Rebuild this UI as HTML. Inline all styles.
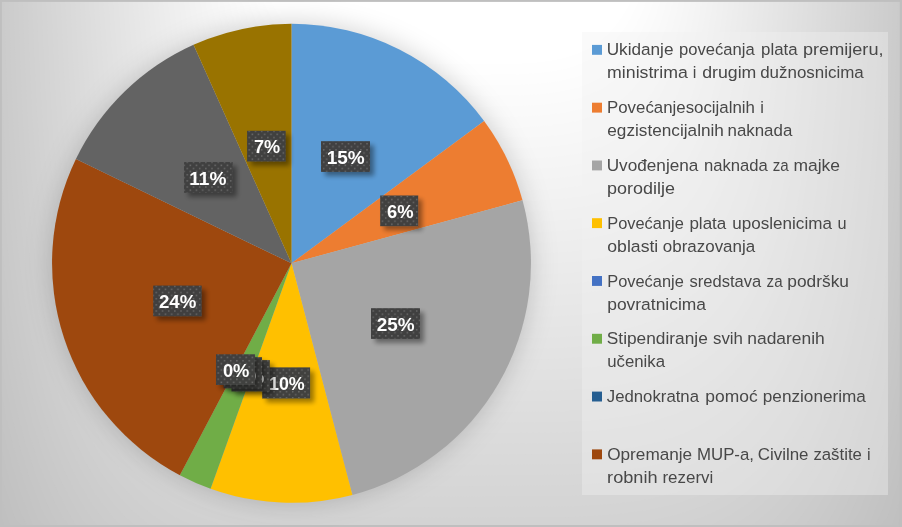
<!DOCTYPE html>
<html lang="bs"><head><meta charset="utf-8"><title>Grafikon</title>
<style>
html,body{margin:0;padding:0;background:#bfbfbf;overflow:hidden}
svg{display:block}
.dl{font-family:"Liberation Sans", sans-serif;font-weight:700;font-size:19.2px;fill:#fff}
.lg{font-family:"Liberation Sans", sans-serif;font-size:16.3px;fill:#484848}
</style></head><body>
<svg width="902" height="527" viewBox="0 0 902 527">
<defs>
<filter id="ps" x="-20%" y="-20%" width="140%" height="140%"><feGaussianBlur stdDeviation="13"/></filter>
<filter id="ls" x="-40%" y="-40%" width="200%" height="200%">
<feGaussianBlur in="SourceAlpha" stdDeviation="2.6" result="b"/><feOffset in="b" dx="4" dy="4" result="o"/>
<feComponentTransfer in="o" result="sh"><feFuncA type="linear" slope="0.4"/></feComponentTransfer>
<feMerge><feMergeNode in="sh"/><feMergeNode in="SourceGraphic"/></feMerge></filter>
<pattern id="dots" width="6.2" height="6.2" patternUnits="userSpaceOnUse" x="0.5" y="0.3">
<rect x="0" y="0" width="1.5" height="1.5" fill="#686868"/><rect x="3.1" y="3.1" width="1.5" height="1.5" fill="#686868"/></pattern>
</defs>
<rect x="0" y="0" width="902" height="527" fill="#bfbfbf"/>
<path d="M-6 -6 -6 45.6 -6 136.6 -6 210.9 -6 274.6 -6 330.4 -6 380.2 -6 424.9 -6 465.3 -3.9 501.9 6.8 533 18.7 533 31.8 533 46.4 533 62.4 533 80.1 533 99.7 533 121.5 533 146 533 173.9 533 206.5 533 246.3 533 300.2 533 451 533 601.8 533 655.7 533 695.5 533 728.1 533 756 533 780.5 533 802.3 533 821.9 533 839.6 533 855.6 533 870.2 533 883.3 533 895.2 533 905.9 501.9 908 465.3 908 424.9 908 380.2 908 330.4 908 274.6 908 210.9 908 136.6 908 45.6 908 -6Z" fill="#c0c0c0"/>
<path d="M-6 -6 -6 41.4 -6 131.5 -6 205.1 -6 268.2 -6 323.5 -6 372.8 -6 417.1 -6 457.2 0.2 493.4 10.8 526.3 22.6 533 35.7 533 50.1 533 66 533 83.5 533 102.9 533 124.5 533 148.8 533 176.4 533 208.7 533 248.2 533 301.6 533 451 533 600.4 533 653.8 533 693.3 533 725.6 533 753.2 533 777.5 533 799.1 533 818.5 533 836 533 851.9 533 866.3 533 879.4 533 891.2 526.3 901.8 493.4 908 457.2 908 417.1 908 372.8 908 323.5 908 268.2 908 205.1 908 131.5 908 41.4 908 -6Z" fill="#c1c1c1"/>
<path d="M-6 -6 -6 37.1 -6 126.3 -6 199.3 -6 261.8 -6 316.6 -6 365.5 -6 409.4 -5 449 4.4 485 14.9 517.6 26.6 533 39.5 533 53.8 533 69.5 533 86.9 533 106.2 533 127.6 533 151.6 533 178.9 533 210.9 533 250 533 303 533 451 533 599 533 652 533 691.1 533 723.1 533 750.4 533 774.4 533 795.8 533 815.1 533 832.5 533 848.2 533 862.5 533 875.4 533 887.1 517.6 897.6 485 907 449 908 409.4 908 365.5 908 316.6 908 261.8 908 199.3 908 126.3 908 37.1 908 -6Z" fill="#c2c2c2"/>
<path d="M-6 -6 -6 32.8 -6 121.2 -6 193.5 -6 255.4 -6 309.8 -6 358.1 -6 401.6 -0.7 440.9 8.6 476.5 19 508.8 30.6 533 43.4 533 57.5 533 73.1 533 90.3 533 109.4 533 130.6 533 154.4 533 181.5 533 213.2 533 251.9 533 304.4 533 451 533 597.6 533 650.1 533 688.8 533 720.5 533 747.6 533 771.4 533 792.6 533 811.7 533 828.9 533 844.5 533 858.6 533 871.4 533 883 508.8 893.4 476.5 902.7 440.9 908 401.6 908 358.1 908 309.8 908 255.4 908 193.5 908 121.2 908 32.8 908 -6Z" fill="#c3c3c3"/>
<path d="M-6 -6 -6 28.5 -6 116.1 -6 187.7 -6 249.1 -6 302.9 -6 350.8 -4.6 393.9 3.6 432.8 12.8 468.1 23.1 500 34.5 529 47.2 533 61.2 533 76.7 533 93.7 533 112.6 533 133.6 533 157.2 533 184 533 215.4 533 253.8 533 305.7 533 451 533 596.3 533 648.2 533 686.6 533 718 533 744.8 533 768.4 533 789.4 533 808.3 533 825.3 533 840.8 533 854.8 533 867.5 529 878.9 500 889.2 468.1 898.4 432.8 906.6 393.9 908 350.8 908 302.9 908 249.1 908 187.7 908 116.1 908 28.5 908 -6Z" fill="#c4c4c4"/>
<path d="M-6 -6 -6 24.2 -6 111 -6 181.9 -6 242.7 -6 296 -6 343.4 -0.2 386.1 7.8 424.6 16.9 459.6 27.1 491.3 38.5 520 51 533 64.9 533 80.2 533 97.1 533 115.8 533 136.6 533 160 533 186.6 533 217.7 533 255.7 533 307.1 533 451 533 594.9 533 646.3 533 684.3 533 715.4 533 742 533 765.4 533 786.2 533 804.9 533 821.8 533 837.1 533 851 533 863.5 520 874.9 491.3 885.1 459.6 894.2 424.6 902.2 386.1 908 343.4 908 296 908 242.7 908 181.9 908 111 908 24.2 908 -6Z" fill="#c5c5c5"/>
<path d="M-6 -6 -6 19.9 -6 105.9 -6 176.1 -6 236.3 -6 289.1 -2.9 336.1 4.1 378.3 12.1 416.5 21.1 451.1 31.2 482.5 42.4 510.9 54.9 533 68.6 533 83.8 533 100.5 533 119 533 139.6 533 162.8 533 189.1 533 219.9 533 257.5 533 308.5 533 451 533 593.5 533 644.5 533 682.1 533 712.9 533 739.2 533 762.4 533 783 533 801.5 533 818.2 533 833.4 533 847.1 533 859.6 510.9 870.8 482.5 880.9 451.1 889.9 416.5 897.9 378.3 904.9 336.1 908 289.1 908 236.3 908 176.1 908 105.9 908 19.9 908 -6Z" fill="#c6c6c6"/>
<path d="M-6 -6 -6 15.7 -6 100.8 -6 170.3 -6 229.9 -4.4 282.2 1.5 328.7 8.4 370.6 16.3 408.4 25.3 442.7 35.3 473.7 46.4 501.9 58.7 527.3 72.3 533 87.4 533 103.9 533 122.3 533 142.7 533 165.6 533 191.7 533 222.1 533 259.4 533 309.9 533 451 533 592.1 533 642.6 533 679.9 533 710.3 533 736.4 533 759.3 533 779.7 533 798.1 533 814.6 533 829.7 533 843.3 527.3 855.6 501.9 866.7 473.7 876.7 442.7 885.7 408.4 893.6 370.6 900.5 328.7 906.4 282.2 908 229.9 908 170.3 908 100.8 908 15.7 908 -6Z" fill="#c7c7c7"/>
<path d="M-6 -6 -6 11.4 -6 95.6 -6 164.5 -4.9 223.5 0 275.3 5.9 321.4 12.8 362.8 20.6 400.3 29.4 434.2 39.3 465 50.4 492.8 62.6 518 76.1 533 90.9 533 107.3 533 125.5 533 145.7 533 168.4 533 194.2 533 224.4 533 261.3 533 311.3 533 451 533 590.7 533 640.7 533 677.6 533 707.8 533 733.6 533 756.3 533 776.5 533 794.7 533 811.1 533 825.9 533 839.4 518 851.6 492.8 862.7 465 872.6 434.2 881.4 400.3 889.2 362.8 896.1 321.4 902 275.3 906.9 223.5 908 164.5 908 95.6 908 11.4 908 -6Z" fill="#c8c8c8"/>
<path d="M-6 -6 -6 7.1 -6 90.5 -4.4 158.8 -0.4 217.1 4.5 268.4 10.3 314 17.1 355.1 24.9 392.1 33.6 425.7 43.4 456.2 54.3 483.8 66.4 508.7 79.8 531.1 94.5 533 110.7 533 128.7 533 148.7 533 171.1 533 196.7 533 226.6 533 263.2 533 312.7 533 451 533 589.3 533 638.8 533 675.4 533 705.3 533 730.9 533 753.3 533 773.3 533 791.3 533 807.5 533 822.2 531.1 835.6 508.7 847.7 483.8 858.6 456.2 868.4 425.7 877.1 392.1 884.9 355.1 891.7 314 897.5 268.4 902.4 217.1 906.4 158.8 908 90.5 908 7.1 908 -6Z" fill="#c9c9c9"/>
<path d="M-6 -6 -5.1 2.8 -2.9 85.4 0.2 153 4.1 210.8 9 261.5 14.7 306.7 21.4 347.3 29.1 384 37.8 417.3 47.5 447.4 58.3 474.7 70.3 499.4 83.5 521.6 98 533 114.1 533 131.9 533 151.7 533 173.9 533 199.3 533 228.9 533 265.1 533 314 533 451 533 588 533 636.9 533 673.1 533 702.7 533 728.1 533 750.3 533 770.1 533 787.9 533 804 533 818.5 521.6 831.7 499.4 843.7 474.7 854.5 447.4 864.2 417.3 872.9 384 880.6 347.3 887.3 306.7 893 261.5 897.9 210.8 901.8 153 904.9 85.4 907.1 2.8 908 -6Z" fill="#cacaca"/>
<path d="M-2.2 -6 -1.7 -6 -0.5 -1.5 1.7 80.3 4.7 147.2 8.6 204.4 13.4 254.6 19.1 299.3 25.8 339.5 33.4 375.9 41.9 408.8 51.6 438.6 62.3 465.7 74.1 490.1 87.2 512 101.6 531.6 117.5 533 135.1 533 154.7 533 176.7 533 201.8 533 231.1 533 266.9 533 315.4 533 451 533 586.6 533 635.1 533 670.9 533 700.2 533 725.3 533 747.3 533 766.9 533 784.5 533 800.4 531.6 814.8 512 827.9 490.1 839.7 465.7 850.4 438.6 860.1 408.8 868.6 375.9 876.2 339.5 882.9 299.3 888.6 254.6 893.4 204.4 897.3 147.2 900.3 80.3 902.5 -1.5 903.7 -6 904.2 -6Z" fill="#cbcbcb"/>
<path d="M2.4 -6 2.9 -6 4.2 -5.8 6.3 75.2 9.3 141.4 13.1 198 17.9 247.7 23.5 292 30.1 331.8 37.6 367.7 46.1 400.3 55.6 429.9 66.2 456.6 77.9 480.8 90.9 502.5 105.2 521.9 120.9 533 138.4 533 157.8 533 179.5 533 204.4 533 233.4 533 268.8 533 316.8 533 451 533 585.2 533 633.2 533 668.6 533 697.6 533 722.5 533 744.2 533 763.6 533 781.1 533 796.8 521.9 811.1 502.5 824.1 480.8 835.8 456.6 846.4 429.9 855.9 400.3 864.4 367.7 871.9 331.8 878.5 292 884.1 247.7 888.9 198 892.7 141.4 895.7 75.2 897.8 -5.8 899.1 -6 899.6 -6Z" fill="#cccccc"/>
<path d="M7.1 -6 7.5 -6 8.8 -6 10.9 70.1 13.8 135.6 17.7 191.6 22.4 240.8 27.9 284.6 34.4 324 41.9 359.6 50.3 391.9 59.7 421.1 70.2 447.6 81.8 471.5 94.6 493 108.7 512.2 124.3 529.2 141.6 533 160.8 533 182.3 533 206.9 533 235.6 533 270.7 533 318.2 533 451 533 583.8 533 631.3 533 666.4 533 695.1 533 719.7 533 741.2 533 760.4 533 777.7 529.2 793.3 512.2 807.4 493 820.2 471.5 831.8 447.6 842.3 421.1 851.7 391.9 860.1 359.6 867.6 324 874.1 284.6 879.6 240.8 884.3 191.6 888.2 135.6 891.1 70.1 893.2 -6 894.5 -6 894.9 -6Z" fill="#cdcdcd"/>
<path d="M11.7 -6 12.1 -6 13.4 -6 15.4 64.9 18.4 129.8 22.2 185.2 26.8 233.9 32.3 277.3 38.8 316.3 46.1 351.5 54.5 383.4 63.8 412.3 74.1 438.5 85.6 462.2 98.3 483.5 112.3 502.5 127.7 519.3 144.8 533 163.8 533 185.1 533 209.4 533 237.8 533 272.6 533 319.6 533 451 533 582.4 533 629.4 533 664.2 533 692.6 533 716.9 533 738.2 533 757.2 533 774.3 519.3 789.7 502.5 803.7 483.5 816.4 462.2 827.9 438.5 838.2 412.3 847.5 383.4 855.9 351.5 863.2 316.3 869.7 277.3 875.2 233.9 879.8 185.2 883.6 129.8 886.6 64.9 888.6 -6 889.9 -6 890.3 -6Z" fill="#cecece"/>
<path d="M16.3 -6 16.7 -6 18 -6 20 59.8 22.9 124 26.7 178.9 31.3 227 36.7 269.9 43.1 308.5 50.4 343.3 58.6 374.9 67.9 403.6 78.1 429.5 89.5 452.9 102 474 115.9 492.8 131.1 509.4 148 523.9 166.8 533 187.9 533 212 533 240.1 533 274.4 533 321 533 451 533 581 533 627.6 533 661.9 533 690 533 714.1 533 735.2 533 754 523.9 770.9 509.4 786.1 492.8 800 474 812.5 452.9 823.9 429.5 834.1 403.6 843.4 374.9 851.6 343.3 858.9 308.5 865.3 269.9 870.7 227 875.3 178.9 879.1 124 882 59.8 884 -6 885.3 -6 885.7 -6Z" fill="#cfcfcf"/>
<path d="M20.9 -6 21.3 -6 22.6 -6 24.6 54.7 27.5 118.2 31.2 172.5 35.7 220.1 41.2 262.6 47.4 300.7 54.7 335.2 62.8 366.5 71.9 394.8 82.1 420.5 93.3 443.6 105.7 464.4 119.4 483 134.5 499.5 151.2 513.9 169.8 526.2 190.7 533 214.5 533 242.3 533 276.3 533 322.3 533 451 533 579.7 533 625.7 533 659.7 533 687.5 533 711.3 533 732.2 526.2 750.8 513.9 767.5 499.5 782.6 483 796.3 464.4 808.7 443.6 819.9 420.5 830.1 394.8 839.2 366.5 847.3 335.2 854.6 300.7 860.8 262.6 866.3 220.1 870.8 172.5 874.5 118.2 877.4 54.7 879.4 -6 880.7 -6 881.1 -6Z" fill="#d0d0d0"/>
<path d="M25.5 -6 26 -6 27.2 -6 29.2 49.6 32 112.4 35.7 166.1 40.2 213.2 45.6 255.2 51.8 293 58.9 327.1 67 358 76 386 86 411.4 97.2 434.3 109.4 454.9 123 473.3 137.9 489.6 154.5 503.8 172.9 516 193.5 526.3 217.1 533 244.6 533 278.2 533 323.7 533 451 533 578.3 533 623.8 533 657.4 533 684.9 533 708.5 526.3 729.1 516 747.5 503.8 764.1 489.6 779 473.3 792.6 454.9 804.8 434.3 816 411.4 826 386 835 358 843.1 327.1 850.2 293 856.4 255.2 861.8 213.2 866.3 166.1 870 112.4 872.8 49.6 874.8 -6 876 -6 876.5 -6Z" fill="#d1d1d1"/>
<path d="M30.2 -6 30.6 -6 31.8 -6 33.8 44.5 36.6 106.6 40.2 159.7 44.7 206.3 50 247.9 56.1 285.2 63.2 319 71.1 349.5 80.1 377.3 90 402.4 101 425 113.1 445.4 126.5 463.6 141.3 479.7 157.7 493.8 175.9 505.9 196.3 516 219.6 524.3 246.8 530.7 280.1 533 325.1 533 451 533 576.9 533 621.9 533 655.2 530.7 682.4 524.3 705.7 516 726.1 505.9 744.3 493.8 760.7 479.7 775.5 463.6 788.9 445.4 801 425 812 402.4 821.9 377.3 830.9 349.5 838.8 319 845.9 285.2 852 247.9 857.3 206.3 861.8 159.7 865.4 106.6 868.2 44.5 870.2 -6 871.4 -6 871.8 -6Z" fill="#d2d2d2"/>
<path d="M34.8 -6 35.2 -6 36.4 -6 38.3 39.4 41.1 100.8 44.7 153.3 49.1 199.5 54.4 240.5 60.5 277.5 67.4 310.8 75.3 341.1 84.1 368.5 94 393.3 104.8 415.7 116.9 435.9 130.1 453.9 144.7 469.8 160.9 483.7 178.9 495.7 199.1 505.7 222.1 513.9 249 520.3 281.9 524.8 326.5 527.5 451 528.4 575.5 527.5 620.1 524.8 653 520.3 679.9 513.9 702.9 505.7 723.1 495.7 741.1 483.7 757.3 469.8 771.9 453.9 785.1 435.9 797.2 415.7 808 393.3 817.9 368.5 826.7 341.1 834.6 310.8 841.5 277.5 847.6 240.5 852.9 199.5 857.3 153.3 860.9 100.8 863.7 39.4 865.6 -6 866.8 -6 867.2 -6Z" fill="#d3d3d3"/>
<path d="M39.4 -6 39.8 -6 41 -6 42.9 34.2 45.7 95 49.2 146.9 53.6 192.6 58.8 233.2 64.8 269.7 71.7 302.7 79.5 332.6 88.2 359.7 97.9 384.3 108.7 406.4 120.6 426.4 133.7 444.2 148.1 459.9 164.1 473.7 181.9 485.5 201.9 495.4 224.7 503.5 251.3 509.8 283.8 514.3 327.9 516.9 451 517.8 574.1 516.9 618.2 514.3 650.7 509.8 677.3 503.5 700.1 495.4 720.1 485.5 737.9 473.7 753.9 459.9 768.3 444.2 781.4 426.4 793.3 406.4 804.1 384.3 813.8 359.7 822.5 332.6 830.3 302.7 837.2 269.7 843.2 233.2 848.4 192.6 852.8 146.9 856.3 95 859.1 34.2 861 -6 862.2 -6 862.6 -6Z" fill="#d4d4d4"/>
<path d="M44 -6 44.4 -6 45.6 -6 47.5 29.1 50.2 89.2 53.7 140.6 58 185.7 63.2 225.8 69.1 261.9 75.9 294.6 83.7 324.1 92.3 350.9 101.9 375.2 112.5 397.1 124.3 416.9 137.2 434.4 151.5 450 167.3 463.6 184.9 475.3 204.7 485.1 227.2 493.1 253.5 499.3 285.7 503.8 329.2 506.4 451 507.3 572.8 506.4 616.3 503.8 648.5 499.3 674.8 493.1 697.3 485.1 717.1 475.3 734.7 463.6 750.5 450 764.8 434.4 777.7 416.9 789.5 397.1 800.1 375.2 809.7 350.9 818.3 324.1 826.1 294.6 832.9 261.9 838.8 225.8 844 185.7 848.3 140.6 851.8 89.2 854.5 29.1 856.4 -6 857.6 -6 858 -6Z" fill="#d5d5d5"/>
<path d="M48.6 -6 49 -6 50.2 -6 52.1 24 54.8 83.4 58.2 134.2 62.5 178.8 67.6 218.5 73.5 254.2 80.2 286.4 87.8 315.7 96.4 342.2 105.9 366.2 116.4 387.9 128 407.3 140.8 424.7 154.9 440.1 170.6 453.6 188 465.1 207.5 474.8 229.8 482.8 255.8 488.9 287.6 493.3 330.6 495.9 451 496.7 571.4 495.9 614.4 493.3 646.2 488.9 672.2 482.8 694.5 474.8 714 465.1 731.4 453.6 747.1 440.1 761.2 424.7 774 407.3 785.6 387.9 796.1 366.2 805.6 342.2 814.2 315.7 821.8 286.4 828.5 254.2 834.4 218.5 839.5 178.8 843.8 134.2 847.2 83.4 849.9 24 851.8 -6 853 -6 853.4 -6Z" fill="#d6d6d6"/>
<path d="M53.3 -6 53.6 -6 54.8 -6 56.7 18.9 59.3 77.6 62.8 127.8 67 171.9 72 211.1 77.8 246.4 84.5 278.3 92 307.2 100.4 333.4 109.8 357.1 120.2 378.6 131.7 397.8 144.4 415 158.3 430.2 173.8 443.5 191 454.9 210.3 464.6 232.3 472.4 258 478.4 289.5 482.8 332 485.3 451 486.2 570 485.3 612.5 482.8 644 478.4 669.7 472.4 691.7 464.6 711 454.9 728.2 443.5 743.7 430.2 757.6 415 770.3 397.8 781.8 378.6 792.2 357.1 801.6 333.4 810 307.2 817.5 278.3 824.2 246.4 830 211.1 835 171.9 839.2 127.8 842.7 77.6 845.3 18.9 847.2 -6 848.4 -6 848.7 -6Z" fill="#d7d7d7"/>
<path d="M57.9 -6 58.3 -6 59.4 -6 61.3 13.8 63.9 71.8 67.3 121.4 71.4 165 76.4 203.8 82.1 238.7 88.7 270.2 96.2 298.7 104.5 324.6 113.8 348.1 124.1 369.3 135.4 388.3 147.9 405.3 161.7 420.3 177 433.5 194 444.8 213.1 454.3 234.8 462 260.3 468 291.3 472.2 333.4 474.8 451 475.7 568.6 474.8 610.7 472.2 641.7 468 667.2 462 688.9 454.3 708 444.8 725 433.5 740.3 420.3 754.1 405.3 766.6 388.3 777.9 369.3 788.2 348.1 797.5 324.6 805.8 298.7 813.3 270.2 819.9 238.7 825.6 203.8 830.6 165 834.7 121.4 838.1 71.8 840.7 13.8 842.6 -6 843.7 -6 844.1 -6Z" fill="#d8d8d8"/>
<path d="M62.5 -6 62.9 -6 64 -6 65.8 8.7 68.4 66 71.8 115 75.9 158.1 80.8 196.4 86.5 230.9 93 262 100.3 290.3 108.6 315.9 117.7 339 127.9 360 139.1 378.8 151.5 395.6 165.1 410.4 180.2 423.4 197 434.6 215.9 444 237.4 451.6 262.5 457.5 293.2 461.7 334.8 464.3 451 465.1 567.2 464.3 608.8 461.7 639.5 457.5 664.6 451.6 686.1 444 705 434.6 721.8 423.4 736.9 410.4 750.5 395.6 762.9 378.8 774.1 360 784.3 339 793.4 315.9 801.7 290.3 809 262 815.5 230.9 821.2 196.4 826.1 158.1 830.2 115 833.6 66 836.2 8.7 838 -6 839.1 -6 839.5 -6Z" fill="#d9d9d9"/>
<path d="M67.1 -6 67.5 -6 68.6 -6 70.4 3.5 73 60.2 76.3 108.7 80.3 151.2 85.2 189.1 90.8 223.1 97.2 253.9 104.5 281.8 112.6 307.1 121.7 330 131.7 350.7 142.8 369.3 155 385.9 168.5 400.5 183.4 413.4 200 424.4 218.7 433.7 239.9 441.2 264.7 447.1 295.1 451.2 336.2 453.7 451 454.6 565.8 453.7 606.9 451.2 637.3 447.1 662.1 441.2 683.3 433.7 702 424.4 718.6 413.4 733.5 400.5 747 385.9 759.2 369.3 770.3 350.7 780.3 330 789.4 307.1 797.5 281.8 804.8 253.9 811.2 223.1 816.8 189.1 821.7 151.2 825.7 108.7 829 60.2 831.6 3.5 833.4 -6 834.5 -6 834.9 -6Z" fill="#dadada"/>
<path d="M71.7 -6 72.1 -6 73.2 -6 75 -1.6 77.5 54.4 80.8 102.3 84.8 144.3 89.6 181.7 95.1 215.4 101.5 245.8 108.7 273.3 116.7 298.3 125.7 321 135.6 341.4 146.5 359.7 158.6 376.1 171.9 390.6 186.7 403.3 203.1 414.2 221.5 423.4 242.5 430.8 267 436.6 297 440.7 337.5 443.2 451 444 564.5 443.2 605 440.7 635 436.6 659.5 430.8 680.5 423.4 698.9 414.2 715.3 403.3 730.1 390.6 743.4 376.1 755.5 359.7 766.4 341.4 776.3 321 785.3 298.3 793.3 273.3 800.5 245.8 806.9 215.4 812.4 181.7 817.2 144.3 821.2 102.3 824.5 54.4 827 -1.6 828.8 -6 829.9 -6 830.3 -6Z" fill="#dbdbdb"/>
<path d="M76.4 -6 76.7 -6 77.8 -6 79.6 -6 82.1 48.6 85.3 95.9 89.3 137.4 94 174.4 99.5 207.6 105.7 237.7 112.8 264.9 120.8 289.6 129.6 311.9 139.4 332.1 150.2 350.2 162.2 366.4 175.3 380.7 189.9 393.3 206.1 404 224.3 413.1 245 420.5 269.2 426.2 298.8 430.2 338.9 432.7 451 433.5 563.1 432.7 603.2 430.2 632.8 426.2 657 420.5 677.7 413.1 695.9 404 712.1 393.3 726.7 380.7 739.8 366.4 751.8 350.2 762.6 332.1 772.4 311.9 781.2 289.6 789.2 264.9 796.3 237.7 802.5 207.6 808 174.4 812.7 137.4 816.7 95.9 819.9 48.6 822.4 -6 824.2 -6 825.3 -6 825.6 -6Z" fill="#dcdcdc"/>
<path d="M81 -6 81.3 -6 82.4 -6 84.2 -6 86.6 42.8 89.8 89.5 93.7 130.5 98.4 167 103.8 199.9 110 229.5 117 256.4 124.9 280.8 133.6 302.9 143.3 322.8 153.9 340.7 165.7 356.7 178.7 370.9 193.1 383.2 209.1 393.9 227.1 402.8 247.5 410.1 271.5 415.7 300.7 419.7 340.3 422.1 451 422.9 561.7 422.1 601.3 419.7 630.5 415.7 654.5 410.1 674.9 402.8 692.9 393.9 708.9 383.2 723.3 370.9 736.3 356.7 748.1 340.7 758.7 322.8 768.4 302.9 777.1 280.8 785 256.4 792 229.5 798.2 199.9 803.6 167 808.3 130.5 812.2 89.5 815.4 42.8 817.8 -6 819.6 -6 820.7 -6 821 -6Z" fill="#dddddd"/>
<path d="M85.6 -6 86 -6 87 -6 88.7 -6 91.2 37 94.3 83.1 98.2 123.6 102.8 159.7 108.1 192.1 114.3 221.4 121.2 247.9 128.9 272 137.6 293.8 147.1 313.5 157.7 331.2 169.3 347 182.1 361 196.3 373.2 212.1 383.7 229.9 392.5 250.1 399.7 273.7 405.3 302.6 409.2 341.7 411.6 451 412.4 560.3 411.6 599.4 409.2 628.3 405.3 651.9 399.7 672.1 392.5 689.9 383.7 705.7 373.2 719.9 361 732.7 347 744.3 331.2 754.9 313.5 764.4 293.8 773.1 272 780.8 247.9 787.7 221.4 793.9 192.1 799.2 159.7 803.8 123.6 807.7 83.1 810.8 37 813.3 -6 815 -6 816 -6 816.4 -6Z" fill="#dedede"/>
<path d="M90.2 -6 90.6 -6 91.6 -6 93.3 -6 95.7 31.2 98.8 76.7 102.6 116.7 107.2 152.3 112.5 184.3 118.5 213.3 125.4 239.5 133 263.2 141.5 284.8 151 304.2 161.4 321.7 172.8 337.3 185.5 351.1 199.5 363.1 215.1 373.5 232.7 382.2 252.6 389.3 275.9 394.8 304.5 398.7 343.1 401.1 451 401.8 558.9 401.1 597.5 398.7 626.1 394.8 649.4 389.3 669.3 382.2 686.9 373.5 702.5 363.1 716.5 351.1 729.2 337.3 740.6 321.7 751 304.2 760.5 284.8 769 263.2 776.6 239.5 783.5 213.3 789.5 184.3 794.8 152.3 799.4 116.7 803.2 76.7 806.3 31.2 808.7 -6 810.4 -6 811.4 -6 811.8 -6Z" fill="#dfdfdf"/>
<path d="M94.8 -6 95.2 -6 96.2 -6 97.9 -6 100.3 25.4 103.3 70.4 107.1 109.8 111.6 145 116.8 176.6 122.8 205.1 129.5 231 137.1 254.5 145.5 275.7 154.8 294.9 165.1 312.2 176.4 327.5 188.9 341.2 202.8 353.1 218.2 363.3 235.5 371.9 255.2 378.9 278.2 384.3 306.3 388.2 344.4 390.5 451 391.3 557.6 390.5 595.7 388.2 623.8 384.3 646.8 378.9 666.5 371.9 683.8 363.3 699.2 353.1 713.1 341.2 725.6 327.5 736.9 312.2 747.2 294.9 756.5 275.7 764.9 254.5 772.5 231 779.2 205.1 785.2 176.6 790.4 145 794.9 109.8 798.7 70.4 801.7 25.4 804.1 -6 805.8 -6 806.8 -6 807.2 -6Z" fill="#e0e0e0"/>
<path d="M99.5 -6 99.8 -6 100.8 -6 102.5 -6 104.8 19.6 107.8 64 111.6 102.9 116 137.6 121.1 168.8 127 197 133.7 222.5 141.2 245.7 149.4 266.7 158.6 285.6 168.8 302.6 180 317.8 192.3 331.3 206 343 221.2 353.1 238.3 361.6 257.7 368.5 280.4 373.9 308.2 377.7 345.8 380 451 380.7 556.2 380 593.8 377.7 621.6 373.9 644.3 368.5 663.7 361.6 680.8 353.1 696 343 709.7 331.3 722 317.8 733.2 302.6 743.4 285.6 752.6 266.7 760.8 245.7 768.3 222.5 775 197 780.9 168.8 786 137.6 790.4 102.9 794.2 64 797.2 19.6 799.5 -6 801.2 -6 802.2 -6 802.5 -6Z" fill="#e1e1e1"/>
<path d="M104.1 -6 104.4 -6 105.4 -6 107.1 -6 109.4 13.8 112.4 57.6 116 96 120.4 130.3 125.5 161.1 131.3 188.9 137.9 214.1 145.2 236.9 153.4 257.6 162.5 276.3 172.5 293.1 183.5 308.1 195.7 321.4 209.2 333 224.2 342.9 241 351.3 260.2 358.1 282.7 363.4 310.1 367.2 347.2 369.5 451 370.2 554.8 369.5 591.9 367.2 619.3 363.4 641.8 358.1 661 351.3 677.8 342.9 692.8 333 706.3 321.4 718.5 308.1 729.5 293.1 739.5 276.3 748.6 257.6 756.8 236.9 764.1 214.1 770.7 188.9 776.5 161.1 781.6 130.3 786 96 789.6 57.6 792.6 13.8 794.9 -6 796.6 -6 797.6 -6 797.9 -6Z" fill="#e2e2e2"/>
<path d="M108.7 -6 109 -6 110 -6 111.6 -6 113.9 8 116.9 51.2 120.5 89.2 124.8 122.9 129.8 153.3 135.6 180.7 142 205.6 149.3 228.2 157.4 248.6 166.3 267 176.2 283.6 187.1 298.4 199.1 311.5 212.4 322.9 227.2 332.8 243.8 341 262.8 347.8 284.9 353 312 356.7 348.6 358.9 451 359.7 553.4 358.9 590 356.7 617.1 353 639.2 347.8 658.2 341 674.8 332.8 689.6 322.9 702.9 311.5 714.9 298.4 725.8 283.6 735.7 267 744.6 248.6 752.7 228.2 760 205.6 766.4 180.7 772.2 153.3 777.2 122.9 781.5 89.2 785.1 51.2 788.1 8 790.4 -6 792 -6 793 -6 793.3 -6Z" fill="#e3e3e3"/>
<path d="M113.3 -6 113.6 -6 114.6 -6 116.2 -6 118.5 2.2 121.4 44.8 125 82.3 129.2 115.6 134.2 145.5 139.8 172.6 146.2 197.2 153.4 219.4 161.3 239.5 170.2 257.7 179.9 274.1 190.7 288.7 202.5 301.6 215.6 312.9 230.2 322.6 246.6 330.7 265.3 337.4 287.2 342.5 313.8 346.2 350 348.4 451 349.1 552 348.4 588.2 346.2 614.8 342.5 636.7 337.4 655.4 330.7 671.8 322.6 686.4 312.9 699.5 301.6 711.3 288.7 722.1 274.1 731.8 257.7 740.7 239.5 748.6 219.4 755.8 197.2 762.2 172.6 767.8 145.5 772.8 115.6 777 82.3 780.6 44.8 783.5 2.2 785.8 -6 787.4 -6 788.4 -6 788.7 -6Z" fill="#e4e4e4"/>
<path d="M117.9 -6 118.3 -6 119.2 -6 120.8 -6 123 -3.6 125.9 38.5 129.4 75.4 133.6 108.2 138.5 137.8 144.1 164.5 150.4 188.7 157.4 210.6 165.3 230.5 174 248.4 183.6 264.6 194.2 279 205.9 291.7 218.9 302.8 233.3 312.4 249.4 320.4 267.9 327 289.4 332.1 315.7 335.7 351.4 337.8 451 338.6 550.6 337.8 586.3 335.7 612.6 332.1 634.1 327 652.6 320.4 668.7 312.4 683.1 302.8 696.1 291.7 707.8 279 718.4 264.6 728 248.4 736.7 230.5 744.6 210.6 751.6 188.7 757.9 164.5 763.5 137.8 768.4 108.2 772.6 75.4 776.1 38.5 779 -3.6 781.2 -6 782.8 -6 783.7 -6 784.1 -6Z" fill="#e5e5e5"/>
<path d="M122.6 -6 122.9 -6 123.8 -6 125.4 -6 127.6 -6 130.4 32.1 133.9 68.5 138 100.9 142.8 130 148.3 156.4 154.5 180.2 161.5 201.9 169.3 221.4 177.8 239.1 187.3 255 197.8 269.2 209.3 281.8 222.1 292.8 236.3 302.2 252.2 310.2 270.4 316.6 291.6 321.6 317.6 325.2 352.7 327.3 451 328 549.3 327.3 584.4 325.2 610.4 321.6 631.6 316.6 649.8 310.2 665.7 302.2 679.9 292.8 692.7 281.8 704.2 269.2 714.7 255 724.2 239.1 732.7 221.4 740.5 201.9 747.5 180.2 753.7 156.4 759.2 130 764 100.9 768.1 68.5 771.6 32.1 774.4 -6 776.6 -6 778.2 -6 779.1 -6 779.4 -6Z" fill="#e6e6e6"/>
<path d="M127.2 -6 127.5 -6 128.4 -6 130 -6 132.1 -6 134.9 25.7 138.3 61.6 142.4 93.5 147.2 122.3 152.6 148.2 158.7 171.8 165.6 193.1 173.2 212.4 181.7 229.8 191 245.5 201.3 259.5 212.7 271.9 225.3 282.7 239.3 292 255 299.9 272.9 306.2 293.9 311.2 319.5 314.7 354.1 316.8 451 317.5 547.9 316.8 582.5 314.7 608.1 311.2 629.1 306.2 647 299.9 662.7 292 676.7 282.7 689.3 271.9 700.7 259.5 711 245.5 720.3 229.8 728.8 212.4 736.4 193.1 743.3 171.8 749.4 148.2 754.8 122.3 759.6 93.5 763.7 61.6 767.1 25.7 769.9 -6 772 -6 773.6 -6 774.5 -6 774.8 -6Z" fill="#e7e7e7"/>
<path d="M131.8 -6 132.1 -6 133 -6 134.5 -6 136.7 -6 139.4 19.3 142.8 54.7 146.8 86.2 151.5 114.5 156.8 140.1 162.9 163.3 169.7 184.3 177.2 203.4 185.5 220.6 194.7 236 204.9 249.8 216.1 262 228.5 272.7 242.3 281.9 257.8 289.6 275.5 295.8 296.1 300.7 321.4 304.2 355.5 306.2 451 306.9 546.5 306.2 580.6 304.2 605.9 300.7 626.5 295.8 644.2 289.6 659.7 281.9 673.5 272.7 685.9 262 697.1 249.8 707.3 236 716.5 220.6 724.8 203.4 732.3 184.3 739.1 163.3 745.2 140.1 750.5 114.5 755.2 86.2 759.2 54.7 762.6 19.3 765.3 -6 767.5 -6 769 -6 769.9 -6 770.2 -6Z" fill="#e8e8e8"/>
<path d="M136.4 -6 136.7 -6 137.6 -6 139.1 -6 141.2 -6 143.9 12.9 147.3 47.8 151.2 78.8 155.8 106.7 161.1 132 167.1 154.8 173.7 175.5 181.2 194.3 189.4 211.3 198.5 226.5 208.5 240.1 219.5 252.1 231.7 262.6 245.3 271.7 260.6 279.3 278 285.5 298.4 290.3 323.2 293.7 356.9 295.7 451 296.4 545.1 295.7 578.8 293.7 603.6 290.3 624 285.5 641.4 279.3 656.7 271.7 670.3 262.6 682.5 252.1 693.5 240.1 703.5 226.5 712.6 211.3 720.8 194.3 728.3 175.5 734.9 154.8 740.9 132 746.2 106.7 750.8 78.8 754.7 47.8 758.1 12.9 760.8 -6 762.9 -6 764.4 -6 765.3 -6 765.6 -6Z" fill="#e9e9e9"/>
<path d="M141 -6 141.3 -6 142.2 -6 143.7 -6 145.8 -6 148.4 6.5 151.7 40.9 155.6 71.5 160.2 99 165.4 123.8 171.2 146.4 177.8 166.8 185.1 185.3 193.2 202 202.2 217 212 230.4 222.9 242.2 235 252.6 248.4 261.5 263.4 269 280.6 275.1 300.6 279.8 325.1 283.2 358.3 285.2 451 285.8 543.7 285.2 576.9 283.2 601.4 279.8 621.4 275.1 638.6 269 653.6 261.5 667 252.6 679.1 242.2 690 230.4 699.8 217 708.8 202 716.9 185.3 724.2 166.8 730.8 146.4 736.6 123.8 741.8 99 746.4 71.5 750.3 40.9 753.6 6.5 756.2 -6 758.3 -6 759.8 -6 760.7 -6 761 -6Z" fill="#eaeaea"/>
<path d="M145.7 -6 146 -6 146.8 -6 148.3 -6 150.3 -6 152.9 0.2 156.2 34 160 64.1 164.5 91.2 169.6 115.7 175.4 137.9 181.9 158 189.1 176.2 197.1 192.7 205.9 207.5 215.6 220.6 226.3 232.3 238.2 242.5 251.4 251.3 266.2 258.7 283.1 264.7 302.8 269.3 327 272.7 359.7 274.6 451 275.3 542.3 274.6 575 272.7 599.2 269.3 618.9 264.7 635.8 258.7 650.6 251.3 663.8 242.5 675.7 232.3 686.4 220.6 696.1 207.5 704.9 192.7 712.9 176.2 720.1 158 726.6 137.9 732.4 115.7 737.5 91.2 742 64.1 745.8 34 749.1 0.2 751.7 -6 753.7 -6 755.2 -6 756 -6 756.3 -6Z" fill="#ebebeb"/>
<path d="M150.3 -6 150.6 -6 151.4 -6 152.9 -6 154.9 -6 157.5 -6 160.6 27.1 164.4 56.8 168.8 83.5 173.9 107.6 179.6 129.4 185.9 149.2 193 167.2 200.9 183.4 209.6 197.9 219.2 210.9 229.7 222.4 241.4 232.5 254.4 241.1 269 248.4 285.6 254.3 305.1 258.9 328.9 262.1 361 264.1 451 264.8 541 264.1 573.1 262.1 596.9 258.9 616.4 254.3 633 248.4 647.6 241.1 660.6 232.5 672.3 222.4 682.8 210.9 692.4 197.9 701.1 183.4 709 167.2 716.1 149.2 722.4 129.4 728.1 107.6 733.2 83.5 737.6 56.8 741.4 27.1 744.5 -6 747.1 -6 749.1 -6 750.6 -6 751.4 -6 751.7 -6Z" fill="#ececec"/>
<path d="M154.9 -6 155.2 -6 156 -6 157.4 -6 159.4 -6 162 -6 165.1 20.2 168.8 49.4 173.2 75.7 178.1 99.4 183.7 121 190 140.5 197 158.1 204.7 174.1 213.3 188.4 222.7 201.2 233.1 212.5 244.6 222.4 257.4 230.9 271.8 238.1 288.2 243.9 307.3 248.4 330.7 251.6 362.4 253.6 451 254.2 539.6 253.6 571.3 251.6 594.7 248.4 613.8 243.9 630.2 238.1 644.6 230.9 657.4 222.4 668.9 212.5 679.3 201.2 688.7 188.4 697.3 174.1 705 158.1 712 140.5 718.3 121 723.9 99.4 728.8 75.7 733.2 49.4 736.9 20.2 740 -6 742.6 -6 744.6 -6 746 -6 746.8 -6 747.1 -6Z" fill="#ededed"/>
<path d="M159.5 -6 159.8 -6 160.6 -6 162 -6 164 -6 166.5 -6 169.6 13.3 173.2 42.1 177.5 67.9 182.4 91.3 187.9 112.5 194.1 131.7 201 149.1 208.6 164.8 217 178.9 226.3 191.5 236.5 202.6 247.8 212.4 260.4 220.8 274.6 227.8 290.7 233.5 309.6 238 332.6 241.1 363.8 243 451 243.7 538.2 243 569.4 241.1 592.4 238 611.3 233.5 627.4 227.8 641.6 220.8 654.2 212.4 665.5 202.6 675.7 191.5 685 178.9 693.4 164.8 701 149.1 707.9 131.7 714.1 112.5 719.6 91.3 724.5 67.9 728.8 42.1 732.4 13.3 735.5 -6 738 -6 740 -6 741.4 -6 742.2 -6 742.5 -6Z" fill="#eeeeee"/>
<path d="M164.1 -6 164.4 -6 165.2 -6 166.6 -6 168.5 -6 171 -6 174 6.4 177.6 34.7 181.8 60.2 186.6 83.2 192.1 104 198.2 122.9 204.9 140 212.4 155.5 220.7 169.4 229.8 181.8 239.9 192.7 251.1 202.3 263.5 210.6 277.4 217.5 293.3 223.2 311.8 227.5 334.5 230.6 365.2 232.5 451 233.1 536.8 232.5 567.5 230.6 590.2 227.5 608.7 223.2 624.6 217.5 638.5 210.6 650.9 202.3 662.1 192.7 672.2 181.8 681.3 169.4 689.6 155.5 697.1 140 703.8 122.9 709.9 104 715.4 83.2 720.2 60.2 724.4 34.7 728 6.4 731 -6 733.5 -6 735.4 -6 736.8 -6 737.6 -6 737.9 -6Z" fill="#efefef"/>
<path d="M168.8 -6 169 -6 169.8 -6 171.2 -6 173.1 -6 175.5 -6 178.5 -0.5 182 27.4 186.2 52.4 190.9 75.1 196.2 95.6 202.2 114.2 208.9 131 216.3 146.2 224.4 159.9 233.4 172.1 243.3 182.9 254.3 192.3 266.5 200.4 280.2 207.2 295.8 212.8 314.1 217.1 336.4 220.1 366.6 222 451 222.6 535.4 222 565.6 220.1 587.9 217.1 606.2 212.8 621.8 207.2 635.5 200.4 647.7 192.3 658.7 182.9 668.6 172.1 677.6 159.9 685.7 146.2 693.1 131 699.8 114.2 705.8 95.6 711.1 75.1 715.8 52.4 720 27.4 723.5 -0.5 726.5 -6 728.9 -6 730.8 -6 732.2 -6 733 -6 733.2 -6Z" fill="#f0f0f0"/>
<path d="M173.4 -6 173.7 -6 174.4 -6 175.8 -6 177.6 -6 180 -6 182.9 -6 186.4 20 190.5 44.7 195.2 66.9 200.4 87.1 206.3 105.4 212.9 121.9 220.1 136.9 228.1 150.3 237 162.3 246.7 173 257.5 182.2 269.5 190.2 283 196.9 298.3 202.4 316.3 206.6 338.2 209.6 367.9 211.4 451 212 534.1 211.4 563.8 209.6 585.7 206.6 603.7 202.4 619 196.9 632.5 190.2 644.5 182.2 655.3 173 665 162.3 673.9 150.3 681.9 136.9 689.1 121.9 695.7 105.4 701.6 87.1 706.8 66.9 711.5 44.7 715.6 20 719.1 -6 722 -6 724.4 -6 726.2 -6 727.6 -6 728.3 -6 728.6 -6Z" fill="#f1f1f1"/>
<path d="M178 -6 178.3 -6 179 -6 180.3 -6 182.2 -6 184.5 -6 187.4 -6 190.8 12.7 194.8 36.9 199.4 58.8 204.6 78.6 210.4 96.6 216.8 112.9 224 127.6 231.8 140.8 240.5 152.6 250.1 163.1 260.7 172.2 272.5 180 285.8 186.6 300.9 192 318.5 196.2 340.1 199.1 369.3 200.9 451 201.5 532.7 200.9 561.9 199.1 583.5 196.2 601.1 192 616.2 186.6 629.5 180 641.3 172.2 651.9 163.1 661.5 152.6 670.2 140.8 678 127.6 685.2 112.9 691.6 96.6 697.4 78.6 702.6 58.8 707.2 36.9 711.2 12.7 714.6 -6 717.5 -6 719.8 -6 721.7 -6 723 -6 723.7 -6 724 -6Z" fill="#f2f2f2"/>
<path d="M182.6 -6 182.9 -6 183.6 -6 184.9 -6 186.7 -6 189 -6 191.9 -6 195.2 5.3 199.2 29.1 203.7 50.7 208.8 70.2 214.4 87.8 220.8 103.9 227.8 118.3 235.5 131.3 244.1 142.9 253.5 153.2 263.9 162.1 275.6 169.9 288.6 176.3 303.4 181.6 320.8 185.7 342 188.6 370.7 190.4 451 190.9 531.3 190.4 560 188.6 581.2 185.7 598.6 181.6 613.4 176.3 626.4 169.9 638.1 162.1 648.5 153.2 657.9 142.9 666.5 131.3 674.2 118.3 681.2 103.9 687.6 87.8 693.2 70.2 698.3 50.7 702.8 29.1 706.8 5.3 710.1 -6 713 -6 715.3 -6 717.1 -6 718.4 -6 719.1 -6 719.4 -6Z" fill="#f3f3f3"/>
<path d="M187.2 -6 187.5 -6 188.3 -6 189.5 -6 191.3 -6 193.5 -6 196.3 -6 199.7 -2 203.5 21.4 207.9 42.5 212.9 61.7 218.5 79.1 224.7 94.8 231.6 109 239.3 121.8 247.6 133.2 256.9 143.3 267.2 152.1 278.6 159.7 291.4 166 306 171.2 323 175.2 343.9 178.1 372.1 179.8 451 180.4 529.9 179.8 558.1 178.1 579 175.2 596 171.2 610.6 166 623.4 159.7 634.8 152.1 645.1 143.3 654.4 133.2 662.7 121.8 670.4 109 677.3 94.8 683.5 79.1 689.1 61.7 694.1 42.5 698.5 21.4 702.3 -2 705.7 -6 708.5 -6 710.7 -6 712.5 -6 713.7 -6 714.5 -6 714.8 -6Z" fill="#f4f4f4"/>
<path d="M191.9 -6 192.1 -6 192.9 -6 194.1 -6 195.8 -6 198 -6 200.8 -6 204.1 -6 207.8 13.6 212.2 34.4 217.1 53.2 222.6 70.3 228.7 85.8 235.5 99.7 243 112.3 251.2 123.5 260.3 133.4 270.4 142 281.6 149.5 294.2 155.8 308.5 160.8 325.3 164.8 345.7 167.6 373.5 169.3 451 169.9 528.5 169.3 556.3 167.6 576.7 164.8 593.5 160.8 607.8 155.8 620.4 149.5 631.6 142 641.7 133.4 650.8 123.5 659 112.3 666.5 99.7 673.3 85.8 679.4 70.3 684.9 53.2 689.8 34.4 694.2 13.6 697.9 -6 701.2 -6 704 -6 706.2 -6 707.9 -6 709.1 -6 709.9 -6 710.1 -6Z" fill="#f5f5f5"/>
<path d="M196.5 -6 196.7 -6 197.5 -6 198.7 -6 200.4 -6 202.6 -6 205.3 -6 208.5 -6 212.2 5.9 216.4 26.3 221.3 44.8 226.7 61.5 232.7 76.7 239.3 90.4 246.7 102.8 254.8 113.8 263.7 123.5 273.6 132 284.6 139.3 297 145.5 311.1 150.5 327.5 154.3 347.6 157.1 374.9 158.8 451 159.3 527.1 158.8 554.4 157.1 574.5 154.3 590.9 150.5 605 145.5 617.4 139.3 628.4 132 638.3 123.5 647.2 113.8 655.3 102.8 662.7 90.4 669.3 76.7 675.3 61.5 680.7 44.8 685.6 26.3 689.8 5.9 693.5 -6 696.7 -6 699.4 -6 701.6 -6 703.3 -6 704.5 -6 705.3 -6 705.5 -6Z" fill="#f6f6f6"/>
<path d="M201.1 -6 201.3 -6 202.1 -6 203.2 -6 204.9 -6 207.1 -6 209.7 -6 212.9 -6 216.5 -1.9 220.7 18.1 225.4 36.3 230.7 52.8 236.6 67.7 243.2 81.1 250.4 93.2 258.3 104 267.1 113.6 276.8 121.9 287.6 129.1 299.8 135.2 313.6 140.1 329.7 143.9 349.5 146.6 376.2 148.2 451 148.8 525.8 148.2 552.5 146.6 572.3 143.9 588.4 140.1 602.2 135.2 614.4 129.1 625.2 121.9 634.9 113.6 643.7 104 651.6 93.2 658.8 81.1 665.4 67.7 671.3 52.8 676.6 36.3 681.3 18.1 685.5 -1.9 689.1 -6 692.3 -6 694.9 -6 697.1 -6 698.8 -6 699.9 -6 700.7 -6 700.9 -6Z" fill="#f7f7f7"/>
<path d="M205.7 -6 206 -6 206.7 -6 207.8 -6 209.5 -6 211.6 -6 214.2 -6 217.3 -6 220.9 -6 225 10 229.6 27.8 234.8 44 240.6 58.6 247 71.8 254.1 83.7 261.9 94.3 270.5 103.7 280 111.9 290.7 118.9 302.6 124.9 316.1 129.7 332 133.4 351.4 136.1 377.6 137.7 451 138.2 524.4 137.7 550.6 136.1 570 133.4 585.9 129.7 599.4 124.9 611.3 118.9 622 111.9 631.5 103.7 640.1 94.3 647.9 83.7 655 71.8 661.4 58.6 667.2 44 672.4 27.8 677 10 681.1 -6 684.7 -6 687.8 -6 690.4 -6 692.5 -6 694.2 -6 695.3 -6 696 -6 696.3 -6Z" fill="#f8f8f8"/>
<path d="M210.3 -6 210.6 -6 211.3 -6 212.4 -6 214 -6 216.1 -6 218.6 -6 221.7 -6 225.2 -6 229.2 1.9 233.8 19.4 238.9 35.2 244.6 49.6 250.9 62.5 257.8 74.2 265.5 84.6 273.9 93.8 283.3 101.8 293.7 108.8 305.4 114.6 318.7 119.3 334.2 123 353.3 125.6 379 127.2 451 127.7 523 127.2 548.7 125.6 567.8 123 583.3 119.3 596.6 114.6 608.3 108.8 618.7 101.8 628.1 93.8 636.5 84.6 644.2 74.2 651.1 62.5 657.4 49.6 663.1 35.2 668.2 19.4 672.8 1.9 676.8 -6 680.3 -6 683.4 -6 685.9 -6 688 -6 689.6 -6 690.7 -6 691.4 -6 691.7 -6Z" fill="#f9f9f9"/>
<path d="M215 -6 215.2 -6 215.9 -6 217 -6 218.6 -6 220.6 -6 223.1 -6 226.1 -6 229.5 -6 233.5 -6 237.9 10.9 243 26.5 248.5 40.5 254.7 53.2 261.5 64.7 269 74.9 277.3 83.9 286.5 91.8 296.7 98.6 308.2 104.3 321.2 108.9 336.5 112.5 355.1 115.1 380.4 116.6 451 117.1 521.6 116.6 546.9 115.1 565.5 112.5 580.8 108.9 593.8 104.3 605.3 98.6 615.5 91.8 624.7 83.9 633 74.9 640.5 64.7 647.3 53.2 653.5 40.5 659 26.5 664.1 10.9 668.5 -6 672.5 -6 675.9 -6 678.9 -6 681.4 -6 683.4 -6 685 -6 686.1 -6 686.8 -6 687 -6Z" fill="#fafafa"/>
<path d="M219.6 -6 219.8 -6 220.5 -6 221.6 -6 223.1 -6 225.1 -6 227.6 -6 230.5 -6 233.9 -6 237.7 -6 242.1 2.4 247 17.7 252.5 31.5 258.5 44 265.2 55.2 272.6 65.2 280.7 74 289.7 81.7 299.7 88.4 310.9 94 323.8 98.5 338.7 102.1 357 104.6 381.8 106.1 451 106.6 520.2 106.1 545 104.6 563.3 102.1 578.2 98.5 591.1 94 602.3 88.4 612.3 81.7 621.3 74 629.4 65.2 636.8 55.2 643.5 44 649.5 31.5 655 17.7 659.9 2.4 664.3 -6 668.1 -6 671.5 -6 674.4 -6 676.9 -6 678.9 -6 680.4 -6 681.5 -6 682.2 -6 682.4 -6Z" fill="#fbfbfb"/>
<path d="M224.2 -6 224.4 -6 225.1 -6 226.1 -6 227.7 -6 229.6 -6 232 -6 234.9 -6 238.2 -6 242 -6 246.3 -6 251.1 8.9 256.5 22.4 262.4 34.7 268.9 45.6 276.1 55.4 284.1 64.1 292.9 71.7 302.7 78.2 313.7 83.7 326.3 88.2 341 91.6 358.9 94.1 383.1 95.5 451 96 518.9 95.5 543.1 94.1 561 91.6 575.7 88.2 588.3 83.7 599.3 78.2 609.1 71.7 617.9 64.1 625.9 55.4 633.1 45.6 639.6 34.7 645.5 22.4 650.9 8.9 655.7 -6 660 -6 663.8 -6 667.1 -6 670 -6 672.4 -6 674.3 -6 675.9 -6 676.9 -6 677.6 -6 677.8 -6Z" fill="#fcfcfc"/>
<path d="M228.8 -6 229 -6 229.7 -6 230.7 -6 232.2 -6 234.1 -6 236.5 -6 239.3 -6 242.5 -6 246.3 -6 250.5 -6 255.2 0.1 260.4 13.4 266.2 25.4 272.6 36.1 279.7 45.7 287.5 54.2 296.1 61.6 305.8 68 316.5 73.4 328.8 77.8 343.2 81.2 360.8 83.6 384.5 85 451 85.5 517.5 85 541.2 83.6 558.8 81.2 573.2 77.8 585.5 73.4 596.2 68 605.9 61.6 614.5 54.2 622.3 45.7 629.4 36.1 635.8 25.4 641.6 13.4 646.8 0.1 651.5 -6 655.7 -6 659.5 -6 662.7 -6 665.5 -6 667.9 -6 669.8 -6 671.3 -6 672.3 -6 673 -6 673.2 -6Z" fill="#fdfdfd"/>
<path d="M233.4 -6 233.7 -6 234.3 -6 235.3 -6 236.8 -6 238.6 -6 240.9 -6 243.7 -6 246.9 -6 250.5 -6 254.6 -6 259.2 -6 264.4 4.4 270.1 16.1 276.3 26.6 283.3 36 290.9 44.3 299.4 51.6 308.8 57.9 319.3 63.1 331.4 67.4 345.4 70.7 362.6 73.1 385.9 74.5 451 74.9 516.1 74.5 539.4 73.1 556.6 70.7 570.6 67.4 582.7 63.1 593.2 57.9 602.6 51.6 611.1 44.3 618.7 36 625.7 26.6 631.9 16.1 637.6 4.4 642.8 -6 647.4 -6 651.5 -6 655.1 -6 658.3 -6 661.1 -6 663.4 -6 665.2 -6 666.7 -6 667.7 -6 668.3 -6 668.6 -6Z" fill="#fefefe"/>
<path d="M238.1 -6 238.3 -6 238.9 -6 239.9 -6 241.3 -6 243.1 -6 245.4 -6 248.1 -6 251.2 -6 254.8 -6 258.8 -6 263.3 -6 268.3 -4.7 273.9 6.8 280.1 17.1 286.8 26.3 294.3 34.4 302.6 41.6 311.8 47.7 322.1 52.8 333.9 57 347.7 60.2 364.5 62.6 387.3 63.9 451 64.4 514.7 63.9 537.5 62.6 554.3 60.2 568.1 57 579.9 52.8 590.2 47.7 599.4 41.6 607.7 34.4 615.2 26.3 621.9 17.1 628.1 6.8 633.7 -4.7 638.7 -6 643.2 -6 647.2 -6 650.8 -6 653.9 -6 656.6 -6 658.9 -6 660.7 -6 662.1 -6 663.1 -6 663.7 -6 663.9 -6Z" fill="#ffffff"/>
<rect x="0" y="0" width="902" height="1.9" fill="#bfbfbf"/><rect x="0" y="0" width="1.9" height="527" fill="#bfbfbf"/>
<rect x="0" y="525" width="902" height="2" fill="#bfbfbf"/><rect x="899.8" y="0" width="2.2" height="527" fill="#bfbfbf"/>
<circle cx="291.5" cy="263.3" r="239.95" fill="#000" fill-opacity="0.18" filter="url(#ps)"/>
<path d="M291.50 263.30L291.50 23.85A239.45 239.45 0 0 1 484.13 121.07Z" fill="#5b9bd5"/>
<path d="M291.50 263.30L484.13 121.07A239.45 239.45 0 0 1 522.51 200.28Z" fill="#ed7d31"/>
<path d="M291.50 263.30L522.51 200.28A239.45 239.45 0 0 1 352.38 494.88Z" fill="#a5a5a5"/>
<path d="M291.50 263.30L352.38 494.88A239.45 239.45 0 0 1 210.59 488.66Z" fill="#ffc000"/>
<path d="M291.50 263.30L210.59 488.66A239.45 239.45 0 0 1 179.86 475.13Z" fill="#70ad47"/>
<path d="M291.50 263.30L179.86 475.13A239.45 239.45 0 0 1 75.94 159.05Z" fill="#9e480e"/>
<path d="M291.50 263.30L75.94 159.05A239.45 239.45 0 0 1 193.53 44.81Z" fill="#636363"/>
<path d="M291.50 263.30L193.53 44.81A239.45 239.45 0 0 1 291.50 23.85Z" fill="#997300"/>
<g opacity="0.995">
<rect x="582" y="32" width="306" height="463" fill="#f2f2f2" fill-opacity="0.39"/>
<rect x="592" y="44.9" width="10" height="9.9" fill="#5b9bd5"/>
<text y="54.7" class="lg"><tspan x="606.7" textLength="66.8" lengthAdjust="spacingAndGlyphs">Ukidanje</tspan> <tspan x="679.1" textLength="75.6" lengthAdjust="spacingAndGlyphs">povećanja</tspan> <tspan x="761.1" textLength="36.5" lengthAdjust="spacingAndGlyphs">plata</tspan> <tspan x="803.0" textLength="80.5" lengthAdjust="spacingAndGlyphs">premijeru,</tspan></text>
<text y="77.5" class="lg"><tspan x="607.1" textLength="80.7" lengthAdjust="spacingAndGlyphs">ministrima</tspan> <tspan x="692.8">i</tspan> <tspan x="702.2" textLength="54.2" lengthAdjust="spacingAndGlyphs">drugim</tspan> <tspan x="760.2" textLength="103.6" lengthAdjust="spacingAndGlyphs">dužnosnicima</tspan></text>
<rect x="592" y="102.7" width="10" height="9.9" fill="#ed7d31"/>
<text y="112.7" class="lg"><tspan x="607.0" textLength="147.9" lengthAdjust="spacingAndGlyphs">Povećanjesocijalnih</tspan> <tspan x="760.3">i</tspan></text>
<text y="135.6" class="lg"><tspan x="607.3" textLength="116.6" lengthAdjust="spacingAndGlyphs">egzistencijalnih</tspan> <tspan x="727.5" textLength="64.8" lengthAdjust="spacingAndGlyphs">naknada</tspan></text>
<rect x="592" y="160.5" width="10" height="9.9" fill="#a5a5a5"/>
<text y="170.8" class="lg"><tspan x="606.7" textLength="91.7" lengthAdjust="spacingAndGlyphs">Uvođenjena</tspan> <tspan x="703.9" textLength="63.9" lengthAdjust="spacingAndGlyphs">naknada</tspan> <tspan x="772.7" textLength="16.0" lengthAdjust="spacingAndGlyphs">za</tspan> <tspan x="793.4" textLength="46.6" lengthAdjust="spacingAndGlyphs">majke</tspan></text>
<text y="193.6" class="lg"><tspan x="607.1" textLength="67.8" lengthAdjust="spacingAndGlyphs">porodilje</tspan></text>
<rect x="592" y="218.2" width="10" height="9.9" fill="#ffc000"/>
<text y="228.7" class="lg"><tspan x="607.2" textLength="76.6" lengthAdjust="spacingAndGlyphs">Povećanje</tspan> <tspan x="689.4" textLength="36.9" lengthAdjust="spacingAndGlyphs">plata</tspan> <tspan x="732.3" textLength="99.6" lengthAdjust="spacingAndGlyphs">uposlenicima</tspan> <tspan x="837.6">u</tspan></text>
<text y="251.5" class="lg"><tspan x="607.3" textLength="51.0" lengthAdjust="spacingAndGlyphs">oblasti</tspan> <tspan x="662.8" textLength="92.4" lengthAdjust="spacingAndGlyphs">obrazovanja</tspan></text>
<rect x="592" y="276.0" width="10" height="9.9" fill="#4472c4"/>
<text y="286.8" class="lg"><tspan x="607.2" textLength="76.6" lengthAdjust="spacingAndGlyphs">Povećanje</tspan> <tspan x="689.6" textLength="71.7" lengthAdjust="spacingAndGlyphs">sredstava</tspan> <tspan x="766.6" textLength="16.0" lengthAdjust="spacingAndGlyphs">za</tspan> <tspan x="787.3" textLength="61.7" lengthAdjust="spacingAndGlyphs">podršku</tspan></text>
<text y="309.6" class="lg"><tspan x="607.2" textLength="98.9" lengthAdjust="spacingAndGlyphs">povratnicima</tspan></text>
<rect x="592" y="333.8" width="10" height="9.9" fill="#70ad47"/>
<text y="344.2" class="lg"><tspan x="606.8" textLength="101.0" lengthAdjust="spacingAndGlyphs">Stipendiranje</tspan> <tspan x="713.0" textLength="30.0" lengthAdjust="spacingAndGlyphs">svih</tspan> <tspan x="747.3" textLength="77.5" lengthAdjust="spacingAndGlyphs">nadarenih</tspan></text>
<text y="367.0" class="lg"><tspan x="607.2" textLength="57.9" lengthAdjust="spacingAndGlyphs">učenika</tspan></text>
<rect x="592" y="391.6" width="10" height="9.9" fill="#255e91"/>
<text y="402.3" class="lg"><tspan x="606.8" textLength="92.2" lengthAdjust="spacingAndGlyphs">Jednokratna</tspan> <tspan x="705.3" textLength="52.3" lengthAdjust="spacingAndGlyphs">pomoć</tspan> <tspan x="762.8" textLength="103.1" lengthAdjust="spacingAndGlyphs">penzionerima</tspan></text>
<rect x="592" y="449.4" width="10" height="9.9" fill="#9e480e"/>
<text y="460.2" class="lg"><tspan x="607.2" textLength="85.0" lengthAdjust="spacingAndGlyphs">Opremanje</tspan> <tspan x="697.0" textLength="57.0" lengthAdjust="spacingAndGlyphs">MUP-a,</tspan> <tspan x="757.7" textLength="50.8" lengthAdjust="spacingAndGlyphs">Civilne</tspan> <tspan x="813.4" textLength="48.5" lengthAdjust="spacingAndGlyphs">zaštite</tspan> <tspan x="867.0">i</tspan></text>
<text y="483.0" class="lg"><tspan x="607.1" textLength="50.5" lengthAdjust="spacingAndGlyphs">robnih</tspan> <tspan x="662.4" textLength="50.9" lengthAdjust="spacingAndGlyphs">rezervi</tspan></text>
</g>
<g opacity="0.995">
<g filter="url(#ls)"><rect x="321.0" y="141.2" width="49.0" height="30.7" fill="#404040"/></g>
<rect x="321.0" y="141.2" width="49.0" height="30.7" fill="url(#dots)"/>
<text x="326.8" y="163.6" textLength="37.9" lengthAdjust="spacingAndGlyphs" class="dl">15%</text>
<g filter="url(#ls)"><rect x="380.2" y="195.5" width="38.0" height="30.7" fill="#404040"/></g>
<rect x="380.2" y="195.5" width="38.0" height="30.7" fill="url(#dots)"/>
<text x="387.1" y="217.9" textLength="26.5" lengthAdjust="spacingAndGlyphs" class="dl">6%</text>
<g filter="url(#ls)"><rect x="371.0" y="308.2" width="49.0" height="30.7" fill="#404040"/></g>
<rect x="371.0" y="308.2" width="49.0" height="30.7" fill="url(#dots)"/>
<text x="376.8" y="330.6" textLength="37.8" lengthAdjust="spacingAndGlyphs" class="dl">25%</text>
<g filter="url(#ls)"><rect x="262.2" y="367.4" width="47.9" height="31.1" fill="#404040"/></g>
<rect x="262.2" y="367.4" width="47.9" height="31.1" fill="url(#dots)"/>
<text x="269.0" y="389.8" textLength="35.7" lengthAdjust="spacingAndGlyphs" class="dl">10%</text>
<g filter="url(#ls)"><rect x="231.5" y="360.1" width="38.3" height="31.3" fill="#404040"/></g>
<rect x="231.5" y="360.1" width="38.3" height="31.3" fill="url(#dots)"/>
<text x="237.8" y="382.5" textLength="26.5" lengthAdjust="spacingAndGlyphs" class="dl">0%</text>
<g filter="url(#ls)"><rect x="223.6" y="357.2" width="38.4" height="31.1" fill="#404040"/></g>
<rect x="223.6" y="357.2" width="38.4" height="31.1" fill="url(#dots)"/>
<text x="229.9" y="379.6" textLength="26.4" lengthAdjust="spacingAndGlyphs" class="dl">2%</text>
<g filter="url(#ls)"><rect x="216.0" y="354.3" width="39.0" height="30.7" fill="#404040"/></g>
<rect x="216.0" y="354.3" width="39.0" height="30.7" fill="url(#dots)"/>
<text x="222.9" y="376.7" textLength="26.5" lengthAdjust="spacingAndGlyphs" class="dl">0%</text>
<g filter="url(#ls)"><rect x="153.2" y="285.6" width="48.5" height="30.7" fill="#404040"/></g>
<rect x="153.2" y="285.6" width="48.5" height="30.7" fill="url(#dots)"/>
<text x="159.0" y="308.0" textLength="37.3" lengthAdjust="spacingAndGlyphs" class="dl">24%</text>
<g filter="url(#ls)"><rect x="184.1" y="162.1" width="48.6" height="30.7" fill="#404040"/></g>
<rect x="184.1" y="162.1" width="48.6" height="30.7" fill="url(#dots)"/>
<text x="189.3" y="184.5" textLength="37.1" lengthAdjust="spacingAndGlyphs" class="dl">11%</text>
<g filter="url(#ls)"><rect x="247.1" y="130.8" width="38.6" height="30.7" fill="#404040"/></g>
<rect x="247.1" y="130.8" width="38.6" height="30.7" fill="url(#dots)"/>
<text x="253.9" y="153.2" textLength="26.2" lengthAdjust="spacingAndGlyphs" class="dl">7%</text>
</g>
</svg>
</body></html>
